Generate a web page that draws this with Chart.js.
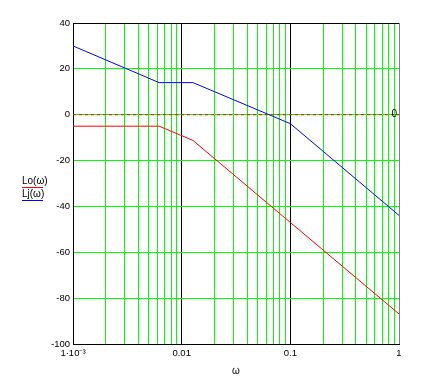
<!DOCTYPE html>
<html lang="en">
<head>
    <meta charset="UTF-8">
    <title>Lo / Lj</title>
    <style>
        body { margin: 0; background: #fff; }
    </style>
</head>
<body>
    <canvas id="myChart" width="425" height="381"></canvas>

    <script src="https://cdn.jsdelivr.net/npm/chart.js"></script>
    <script>
        // corner frequencies and levels
        const omega = [0.001, 0.0062, 0.0127, 0.1, 1];
        const Lo = [-5, -5, -11.2, -47, -86.9];
        const Lj = [30, 14, 14, -3.9, -43.9];
        const yTicks = [40, 20, 0, -20, -40, -60, -80, -100];
        const xDecades = [0.001, 0.01, 0.1, 1];
        const xLabels = ['1·10⁻³', '0.01', '0.1', '1'];

        const FONT = "'Liberation Sans', Arial, sans-serif";
        const GREEN = '#00ff00';

        function toPoints(ys) {
            return omega.map((w, i) => ({ x: w, y: ys[i] }));
        }

        function isDecade(v) {
            const l = Math.log10(v);
            return Math.abs(l - Math.round(l)) < 1e-9;
        }

        // x grid: every 1..9 multiple of each decade
        const xGridValues = [];
        for (let d = 0; d < 3; d++) {
            for (let k = 1; k < 10; k++) xGridValues.push(k * xDecades[d]);
        }
        xGridValues.push(1);
        const xGridColors = xGridValues.map(v => {
            if (Math.abs(v - 1) < 1e-9) return '#808080';
            return isDecade(v) ? '#000000' : GREEN;
        });
        const yGridColors = yTicks.map(v => v === 40 ? '#000000' : GREEN);

        // legend on the left + "0" marker text
        const extras = {
            id: 'extras',
            afterDraw(chart) {
                const c = chart.ctx;
                const y0 = chart.scales.y.getPixelForValue(0);
                c.save();
                c.font = '10px ' + FONT;
                c.fillStyle = '#000';
                c.textBaseline = 'alphabetic';
                c.textAlign = 'left';
                c.fillText('Lo(ω)', 22, 184);
                c.fillText('Lj(ω)', 22, 197);
                c.fillStyle = '#ff0000';
                c.fillRect(22, 187, 21, 1);
                c.fillStyle = '#0000ff';
                c.fillRect(22, 200, 21, 1);
                c.fillStyle = '#000';
                c.textAlign = 'right';
                c.textBaseline = 'middle';
                c.fillText('0', 397, y0);
                c.restore();
            }
        };

        const ctx = document.getElementById('myChart');

        new Chart(ctx, {
            type: 'scatter',
            data: {
                datasets: [{
                    label: 'zero',
                    data: [{ x: 0.001, y: 0 }, { x: 1, y: 0 }],
                    showLine: true,
                    borderColor: '#ff0000',
                    borderWidth: 1,
                    borderDash: [3, 3],
                    pointRadius: 0
                }, {
                    label: 'Lo(ω)',
                    data: toPoints(Lo),
                    showLine: true,
                    borderColor: '#ff0000',
                    borderWidth: 1,
                    pointRadius: 0
                }, {
                    label: 'Lj(ω)',
                    data: toPoints(Lj),
                    showLine: true,
                    borderColor: '#0000ff',
                    borderWidth: 1,
                    pointRadius: 0
                }]
            },
            options: {
                responsive: false,
                animation: false,
                devicePixelRatio: 1,
                layout: { padding: { left: 0, top: 23, right: 26, bottom: 0 } },
                scales: {
                    x: {
                        type: 'logarithmic',
                        min: 0.001,
                        max: 1,
                        afterBuildTicks(scale) {
                            scale.ticks = xGridValues.map(v => ({ value: v }));
                        },
                        afterFit(scale) { scale.height = 37; },
                        ticks: {
                            autoSkip: false,
                            maxRotation: 0,
                            padding: 4,
                            color: '#000',
                            font: { family: FONT, size: 9.5 },
                            callback(v) {
                                const i = xDecades.findIndex(d => Math.abs(d - v) < 1e-12);
                                return i >= 0 ? xLabels[i] : '';
                            }
                        },
                        grid: { drawTicks: false, color: xGridColors },
                        border: { color: '#000' },
                        title: {
                            display: true,
                            text: 'ω',
                            color: '#000',
                            font: { family: FONT, size: 10 },
                            padding: { top: 0, bottom: 4 }
                        }
                    },
                    y: {
                        min: -100,
                        max: 40,
                        afterBuildTicks(scale) {
                            scale.ticks = yTicks.map(v => ({ value: v }));
                        },
                        afterFit(scale) { scale.width = 73; },
                        ticks: {
                            padding: 3,
                            color: '#000',
                            font: { family: FONT, size: 9.5 },
                            callback: v => String(v)
                        },
                        grid: { drawTicks: false, color: yGridColors },
                        border: { color: '#000' }
                    }
                },
                plugins: {
                    legend: { display: false },
                    tooltip: { enabled: false }
                }
            },
            plugins: [extras]
        });
    </script>
</body>
</html>
